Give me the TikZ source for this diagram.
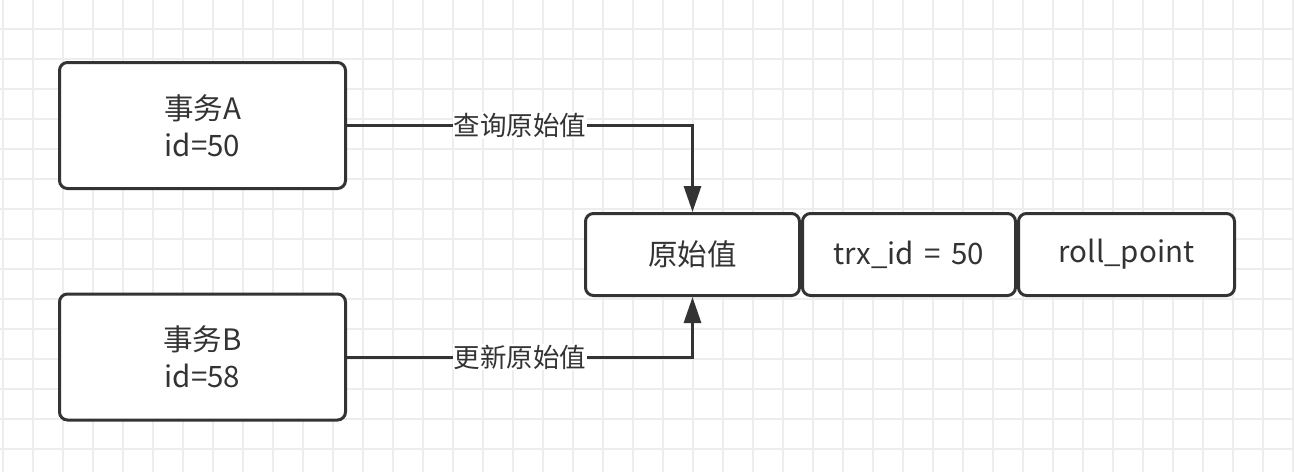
\documentclass[tikz,border=0pt]{standalone}
\usepackage{fontspec}
\setmainfont{Noto Sans CJK SC}
\usetikzlibrary{arrows.meta}
\definecolor{ink}{HTML}{333333}
\definecolor{gridline}{HTML}{EDEDED}
\tikzset{
  box/.style={draw=ink, line width=3pt, rounded corners=8pt, fill=white,
    text=ink, font=\fontsize{29.5}{37}\selectfont, align=center, inner sep=0pt},
  cell/.style={box, minimum height=82pt},
  flow/.style={draw=ink, line width=3pt, -{Triangle[length=26pt,width=17pt]}},
  tag/.style={fill=white, text=ink, font=\fontsize{26.5}{30}\selectfont, inner sep=1pt}
}
\begin{document}
\begin{tikzpicture}[x=1pt,y=-1pt]
  \useasboundingbox (0,0) rectangle (1294,472);
  \fill[white] (0,0) rectangle (1294,472);
  % background grid
  \foreach \gx in {3,33,...,1293} \draw[gridline, line width=1.5pt] (\gx,0) -- (\gx,472);
  \foreach \gy in {-1,29,...,471} \draw[gridline, line width=1.5pt] (0,\gy) -- (1294,\gy);

  % transactions
  \node[box, minimum width=286pt, minimum height=126pt] (ta) at (202.5,125.5) {事务A\\id=50};
  \node[box, minimum width=286pt, minimum height=126pt] (tb) at (202.5,357) {事务B\\id=58};

  % record fields
  \node[cell, minimum width=214pt] (val) at (692.5,254.5) {原始值};
  \node[cell, minimum width=213pt] (trx) at (909,254.5) {trx\_id\hspace{4pt} = \hspace{4pt}50};
  \node[cell, minimum width=216pt] (roll) at (1126.5,254.5) {roll\_point};

  % accesses
  \draw[flow] (ta.east) -| node[tag, pos=0.25] {查询原始值} (val.north);
  \draw[flow] (tb.east) -| node[tag, pos=0.25] {更新原始值} (val.south);
\end{tikzpicture}
\end{document}
